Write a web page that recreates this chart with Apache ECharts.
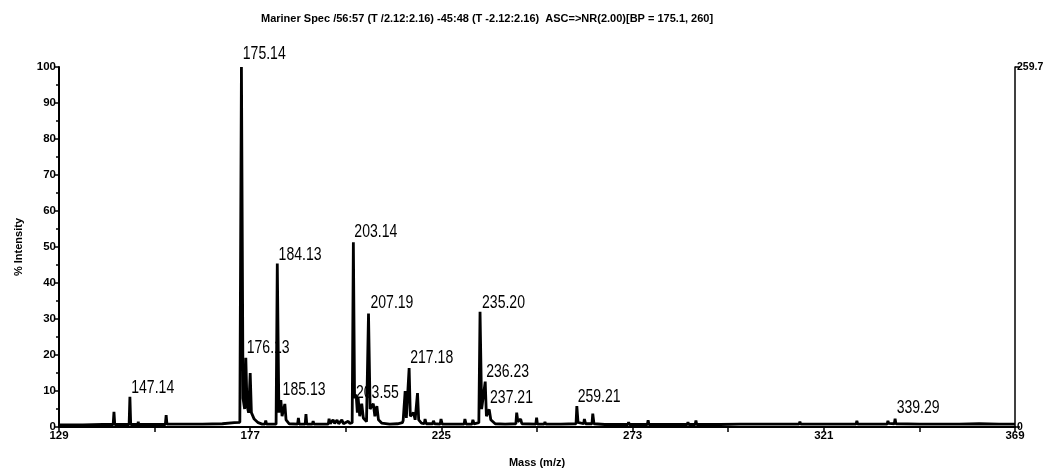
<!DOCTYPE html>
<html>
<head>
<meta charset="utf-8">
<title>Mariner Spec</title>
<script src="https://cdn.jsdelivr.net/npm/echarts@6/dist/echarts.min.js"></script>
<style>
  html, body { margin: 0; padding: 0; background: #fff; }
  #chart { width: 1048px; height: 468px; }
</style>
</head>
<body>
<div id="chart"></div>
<script>
// spectrum trace: [m/z, % intensity]
const profile = [
  [129, 0.6], [135, 0.6], [140, 0.7],
  [142.6, 0.7], [142.8, 4.2], [143.0, 0.7],
  [146.6, 0.7], [146.8, 8.4], [147.0, 0.7],
  [148.8, 0.7], [148.9, 1.5], [149.0, 0.7],
  [152, 0.7], [155.7, 0.7], [155.9, 3.3], [156.1, 0.8],
  [157.5, 0.8], [157.6, 1.3], [157.7, 0.8],
  [160.5, 0.8], [160.6, 1.2], [160.7, 0.8],
  [165, 0.8], [170, 0.9], [173, 1.2], [174.4, 1.3],
  [174.8, 100], [175.2, 8], [175.6, 5], [175.9, 19.2], [176.2, 6], [176.6, 4],
  [177.0, 15], [177.3, 4], [178, 2.2], [179, 1.2], [180, 0.8],
  [180.7, 0.8], [180.9, 1.8], [181.1, 0.8],
  [183.5, 0.8], [183.8, 45.4], [184.2, 4], [184.7, 7.5], [185.0, 3], [185.7, 6.4], [186, 2], [186.8, 0.9],
  [188.9, 0.8], [189.1, 2.5], [189.3, 0.8], [190.8, 0.8], [191.0, 3.6], [191.2, 0.8],
  [192.6, 0.8], [192.8, 1.6], [193.0, 0.8],
  [196.6, 0.8], [196.8, 2.3], [197.1, 0.9], [197.8, 2.0], [198.2, 1.0], [198.8, 1.9], [199.2, 0.9],
  [200.0, 2.0], [200.4, 0.9], [201.6, 1.6], [202.0, 1.0],
  [202.6, 1.2], [202.9, 51.3], [203.2, 8], [203.6, 9], [203.9, 4], [204.1, 8], [204.5, 3],
  [205.0, 6.5], [205.4, 2.5], [206.2, 1.5],
  [206.7, 31.5], [207.1, 5], [207.9, 6.5], [208.3, 3], [208.8, 5.8], [209.2, 2], [210, 1.1],
  [212, 0.8], [214, 0.9], [215.2, 1.2], [215.4, 1.8], [215.6, 1.4],
  [215.9, 10], [216.2, 2.5], [216.9, 16.4], [217.2, 3], [218.0, 4], [218.4, 2], [219.0, 9.4], [219.3, 2],
  [220.0, 1.1], [220.7, 0.9], [220.9, 2.2], [221.2, 0.9], [222.8, 0.9], [223.0, 1.7], [223.3, 0.9],
  [224.7, 0.8], [224.9, 2.2], [225.2, 0.8],
  [228, 0.8], [230.7, 0.8], [230.9, 2.2], [231.2, 0.8], [232.7, 0.8], [232.9, 2.0], [233.2, 0.9], [234.4, 1.2],
  [234.7, 32], [235.1, 5], [236.0, 12.6], [236.3, 3], [237.0, 4.9], [237.4, 2], [238.5, 0.9],
  [241, 0.8], [243.7, 0.9], [243.9, 4.0], [244.2, 1.5], [244.9, 2.2], [245.2, 0.9],
  [248.7, 0.8], [248.9, 2.6], [249.1, 0.8], [250.8, 0.8], [251, 1.4], [251.2, 0.8],
  [255, 0.8], [258.8, 0.9], [259.0, 5.8], [259.3, 1.3], [260.7, 0.9], [260.9, 2.2], [261.2, 0.9],
  [262.8, 0.9], [263.0, 3.7], [263.3, 0.9],
  [266, 0.7], [270, 0.7], [271.8, 0.7], [272, 1.3], [272.2, 0.7], [276.7, 0.7], [276.9, 1.9], [277.1, 0.7],
  [280, 0.7], [284, 0.7], [286.7, 0.7], [286.9, 1.3], [287.1, 0.7], [288.7, 0.7], [288.9, 1.8], [289.1, 0.7],
  [295, 0.7], [300, 0.8], [304.8, 0.8], [305, 1.2], [305.2, 0.8], [310, 0.8],
  [314.8, 0.8], [315, 1.5], [315.2, 0.8], [317.8, 0.8], [318, 1.2], [318.2, 0.8],
  [325, 0.8], [329.1, 0.8], [329.3, 1.7], [329.5, 0.8], [332.8, 0.8], [333, 1.2], [333.2, 0.8],
  [336.9, 0.8], [337.1, 1.7], [337.3, 1.0], [338.7, 0.9], [338.9, 2.3], [339.1, 0.9],
  [345, 0.8], [349.8, 0.8], [350, 1.2], [350.2, 0.8], [355, 0.8], [360, 0.9], [365, 0.8], [369, 0.8]
];

// peak annotations: text and the height where the text sits
const peakLabels = ['147.14', '175.14', '176.13', '184.13', '185.13', '203.14', '203.55',
  '207.19', '217.18', '235.20', '236.23', '237.21', '259.21', '339.29'];
const labelHeights = [9.2, 102, 20.3, 46.2, 8.6, 52.4, 7.8, 32.9, 17.5, 32.9, 13.6, 6.4, 6.7, 3.6];

const xTicks = [129, 177, 225, 273, 321, 369];
const rightMax = 259.7;

const title = 'Mariner Spec /56:57 (T /2.12:2.16) -45:48 (T -2.12:2.16)  ASC=>NR(2.00)[BP = 175.1, 260]';

const sans = "'Liberation Sans', Arial, sans-serif";

const labelData = peakLabels.map((t, i) => [parseFloat(t), labelHeights[i]]);

const chart = echarts.init(document.getElementById('chart'));
chart.setOption({
  animation: false,
  backgroundColor: '#fff',
  title: {
    text: title,
    left: 256,
    top: 8,
    textStyle: { fontFamily: sans, fontSize: 11, fontWeight: 'bold', color: '#000' }
  },
  grid: { left: 59, right: 33, top: 67, bottom: 41, containLabel: false, outerBoundsMode: 'none' },
  xAxis: {
    type: 'value',
    min: 129,
    max: 369,
    interval: 24,
    name: 'Mass (m/z)',
    nameLocation: 'middle',
    nameGap: 30,
    nameTextStyle: { fontFamily: sans, fontSize: 11, fontWeight: 'bold', color: '#000' },
    axisLine: { onZero: false, lineStyle: { color: '#000', width: 2 } },
    axisTick: { length: 5, lineStyle: { color: '#000', width: 1.5 } },
    axisLabel: {
      fontFamily: sans, fontSize: 11.5, fontWeight: 'bold', color: '#000', margin: 3,
      formatter: v => (xTicks.indexOf(v) >= 0 ? String(v) : '')
    },
    splitLine: { show: false }
  },
  yAxis: [{
    type: 'value',
    min: 0,
    max: 100,
    interval: 10,
    name: '% Intensity',
    nameLocation: 'middle',
    nameGap: 35,
    nameTextStyle: { fontFamily: sans, fontSize: 11, fontWeight: 'bold', color: '#000' },
    axisLine: { show: true, lineStyle: { color: '#000', width: 2 } },
    axisTick: { show: true, length: 5, lineStyle: { color: '#000', width: 1.5 } },
    minorTick: { show: true, splitNumber: 2, length: 3, lineStyle: { color: '#000', width: 1.5 } },
    axisLabel: { fontFamily: sans, fontSize: 11.5, fontWeight: 'bold', color: '#000', margin: 3 },
    splitLine: { show: false }
  }, {
    type: 'value',
    position: 'right',
    min: 0,
    max: rightMax,
    interval: rightMax,
    axisLine: { show: true, lineStyle: { color: '#000', width: 1.5 } },
    axisTick: { show: true, length: 5, lineStyle: { color: '#000', width: 1.5 } },
    axisLabel: { fontFamily: sans, fontSize: 10.5, fontWeight: 'bold', color: '#000', margin: 2 },
    splitLine: { show: false }
  }],
  series: [{
    type: 'line',
    data: profile,
    symbol: 'none',
    sampling: 'none',
    lineStyle: { color: '#000', width: 2.8 },
    silent: true
  }, {
    // peak m/z annotations, squeezed horizontally like the original narrow font
    type: 'custom',
    data: labelData,
    clip: false,
    silent: true,
    renderItem: (params, api) => {
      const pt = api.coord([api.value(0), api.value(1)]);
      return {
        type: 'text',
        x: pt[0],
        y: pt[1] + 3,
        scaleX: 0.78,
        style: {
          text: peakLabels[params.dataIndex],
          font: "18px 'Liberation Sans', Arial, sans-serif",
          fill: '#000',
          align: 'left',
          verticalAlign: 'bottom'
        }
      };
    }
  }]
});
</script>
</body>
</html>
